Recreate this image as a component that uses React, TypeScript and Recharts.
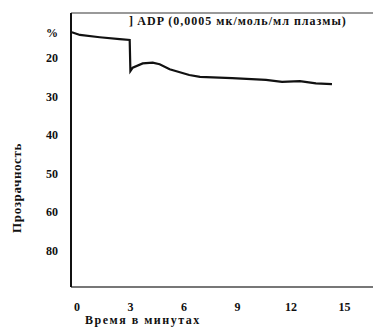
import { LineChart, Line, XAxis, YAxis, ReferenceLine } from 'recharts'

// Aggregation curve (time in minutes, transparency %)
const times = [-0.28, 0.17, 1.28, 2.4, 2.96, 3.0, 3.13, 3.69, 4.25, 4.64, 5.2, 6.3, 6.9, 8.7, 10.6, 11.5, 12.5, 13.4, 14.3]
const transparency = [13.3, 14.0, 14.6, 15.1, 15.3, 23.4, 22.5, 21.4, 21.2, 21.6, 22.9, 24.4, 24.9, 25.2, 25.7, 26.2, 26.0, 26.6, 26.8]

const xTicks = [0, 3, 6, 9, 12, 15]
const yTicks = [13.3, 20, 30, 40, 50, 60, 70]
const yTickLabels = ['%', '20', '30', '40', '50', '60', '80']

const data = times.map((t, i) => ({ t, v: transparency[i] }))

const Y_MIN = 8.3
const Y_MAX = 79.5

const font = '"Liberation Serif", "DejaVu Serif", serif'
const tickStyle = { fontSize: 12, fontWeight: 700, fill: '#111', fontFamily: font }

export default function App() {
  return (
    <div style={{ position: 'absolute', left: 0, top: 0, width: 373, height: 327, background: '#fff', fontFamily: font }}>
      <LineChart width={373} height={327} data={data} margin={{ top: 13, right: 0, left: 0, bottom: 10 }}>
        <XAxis
          dataKey="t"
          type="number"
          domain={[-0.33, 16.6]}
          ticks={xTicks}
          tickLine={false}
          tickSize={0}
          tickMargin={15}
          height={30}
          axisLine={{ stroke: '#777', strokeWidth: 2 }}
          tick={tickStyle}
          allowDataOverflow
        />
        <YAxis
          type="number"
          reversed
          domain={[Y_MIN, Y_MAX]}
          ticks={yTicks}
          tickFormatter={(v: number) => yTickLabels[yTicks.indexOf(v)] ?? ''}
          tickLine={false}
          tickSize={0}
          tickMargin={13}
          width={71}
          axisLine={{ stroke: '#111', strokeWidth: 2 }}
          tick={tickStyle}
          allowDataOverflow
        />
        {/* grey frame line along the top */}
        <ReferenceLine y={Y_MIN} stroke="#999" strokeWidth={2} ifOverflow="visible" />
        <Line
          type="linear"
          dataKey="v"
          stroke="#111"
          strokeWidth={2.2}
          dot={false}
          isAnimationActive={false}
        />
      </LineChart>

      <div style={{ position: 'absolute', left: 129, top: 14, fontSize: 12, letterSpacing: 1, fontWeight: 700, color: '#111', whiteSpace: 'nowrap' }}>
        ] ADP (0,0005 мк/моль/мл плазмы)
      </div>
      <div style={{ position: 'absolute', left: 85, top: 313, fontSize: 12, letterSpacing: 1.5, fontWeight: 700, color: '#111', whiteSpace: 'nowrap' }}>
        Время в минутах
      </div>
      <div
        style={{
          position: 'absolute', left: 17, top: 188, fontSize: 13, letterSpacing: 0.6, fontWeight: 700, color: '#111',
          whiteSpace: 'nowrap', transform: 'translate(-50%, -50%) rotate(-90deg)',
        }}
      >
        Прозрачность
      </div>
    </div>
  )
}
